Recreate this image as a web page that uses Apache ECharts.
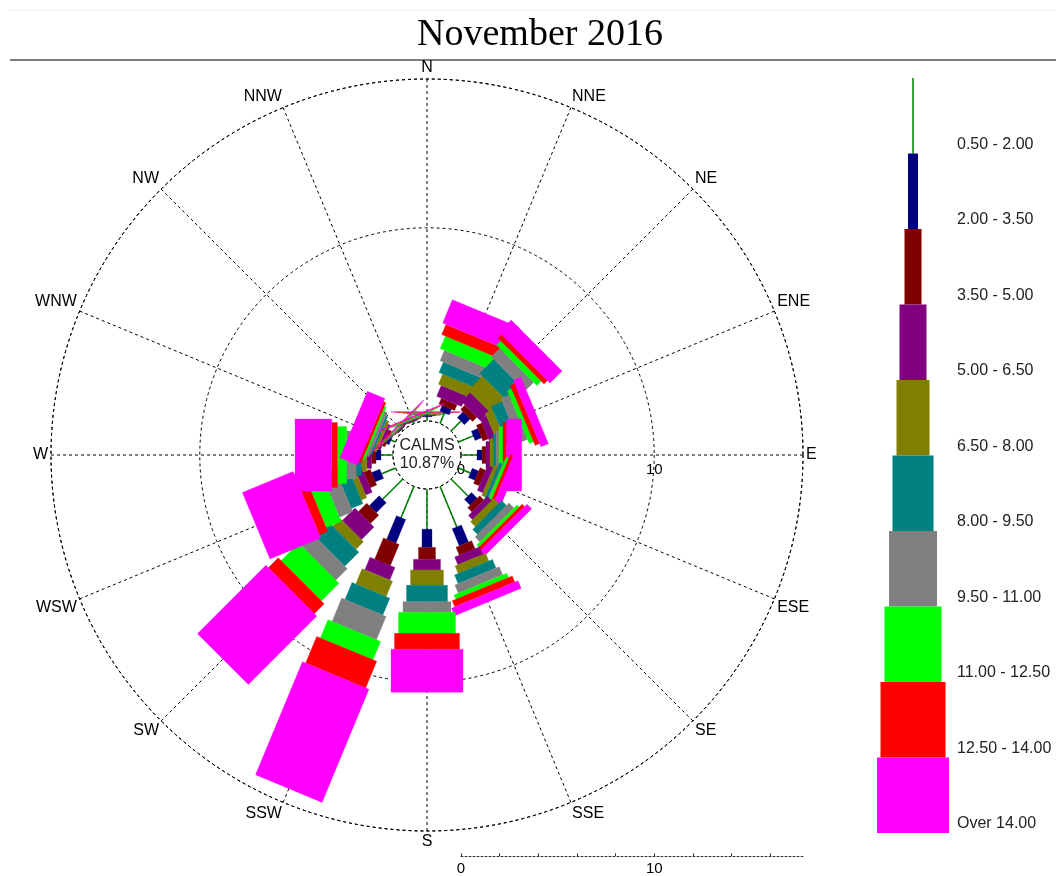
<!DOCTYPE html>
<html><head><meta charset="utf-8">
<script src="https://cdn.jsdelivr.net/npm/echarts@6/dist/echarts.min.js"></script>
<style>html,body{margin:0;padding:0;background:#fff}#chart{width:1056px;height:876px}</style>
</head><body><div id="chart"></div>
<script>
// ---------- DATA ----------
const directions = ['N','NNE','NE','ENE','E','ESE','SE','SSE','S','SSW','SW','WSW','W','WNW','NW','NNW'];
const speedClasses = ['0.50 - 2.00','2.00 - 3.50','3.50 - 5.00','5.00 - 6.50','6.50 - 8.00',
  '8.00 - 9.50','9.50 - 11.00','11.00 - 12.50','12.50 - 14.00','Over 14.00'];
const calmsPct = 10.87;
// frequency (%) of each speed class, per direction (N ... NNW)
const spd050_200 = [0.22,0.60,0.72,0.83,0.83,0.67,1.24,2.27,2.08,1.75,1.48,0.78,0.62,0.26,0.10,0.10];
const spd200_350 = [0.04,0.31,0.42,0.36,0.26,0.36,0.42,0.95,0.94,1.32,0.73,0.46,0.26,0.15,0.04,0.03];
const spd350_500 = [0.04,0.33,0.31,0.31,0.20,0.32,0.31,0.45,0.62,1.19,0.61,0.36,0.23,0.16,0.04,0.03];
const spd500_650 = [0.03,0.61,0.67,0.36,0.21,0.31,0.31,0.43,0.55,0.70,0.92,0.37,0.25,0.15,0.02,0.03];
const spd650_800 = [0.03,0.57,1.04,0.42,0.16,0.20,0.36,0.43,0.79,0.86,0.55,0.30,0.26,0.16,0.03,0.03];
const spd800_950 = [0.03,0.59,1.03,0.62,0.15,0.16,0.36,0.48,0.85,0.95,1.03,0.65,0.29,0.10,0.03,0.03];
const spd950_1100 = [0.03,0.58,0.62,0.46,0.16,0.05,0.36,0.46,0.55,1.31,0.84,0.74,0.49,0.16,0.03,0.03];
const spd1100_1250 = [0.02,0.70,0.31,0.24,0.20,0.15,0.16,0.24,1.09,1.02,1.29,0.84,0.48,0.10,0.03,0.03];
const spd1250_1400 = [0.02,0.57,0.26,0.25,0.19,0.16,0.18,0.34,0.82,1.49,0.72,0.47,0.29,0.13,0.03,0.03];
const spdOver1400 = [0.02,1.31,0.88,0.42,0.78,0.39,0.34,0.43,2.23,6.34,5.01,2.84,1.90,0.98,0.04,0.03];
const radiusLabels = [0, 10];
const scaleLabels = [0, 10];

// ---------- STYLE ----------
const classValues = [spd050_200,spd200_350,spd350_500,spd500_650,spd650_800,spd800_950,spd950_1100,spd1100_1250,spd1250_1400,spdOver1400];
const classColors = ['#008000','#000080','#800000','#800080','#808000','#008080','#808080','#00ff00','#ff0000','#ff00ff'];
const classWidths = [1.5,10,17,27,33,41,48,57,65,72];
const radiusMax = 17.7;
const dash = [3,3];
const sans = '"Liberation Sans", Arial, sans-serif';

// compass bearing -> angle value (angle axis starts at east, clockwise)
function angleValue(i){ return (i*22.5 + 270) % 360; }
function dirName(v){ const b = (v + 90) % 360; return directions[Math.round(b/22.5) % 16]; }

function renderRose(params, api){
  const d = api.value(2);
  const ang = angleValue(d);
  const cs = params.coordSys;
  const cx = cs.cx, cy = cs.cy;
  const children = [];
  let cum = 0;
  for (let k = 0; k < classValues.length; k++){
    const v = classValues[k][d];
    const p0 = api.coord([cum, ang]);
    cum += v;
    const p1 = api.coord([cum, ang]);
    let ux = p0[0]-cx, uy = p0[1]-cy; const L = Math.hypot(ux,uy) || 1; ux/=L; uy/=L;
    const nx = -uy, ny = ux, hw = classWidths[k]/2;
    if (k === 0){
      children.push({type:'line', shape:{x1:p0[0],y1:p0[1],x2:p1[0],y2:p1[1]},
        style:{stroke:classColors[0], lineWidth:1.5}});
    } else {
      children.push({type:'polygon', shape:{points:[
        [p0[0]+nx*hw, p0[1]+ny*hw],[p1[0]+nx*hw, p1[1]+ny*hw],
        [p1[0]-nx*hw, p1[1]-ny*hw],[p0[0]-nx*hw, p0[1]-ny*hw]]},
        style:{fill:classColors[k], stroke:classColors[k], lineWidth:0.3}});
    }
  }
  return {type:'group', children};
}

function renderLegend(params, api){
  const i = api.value(1);
  const c = api.coord([0, i]);
  const h = api.size([0, 1])[1];
  const w = classWidths[i];
  const children = [];
  if (i === 0){
    children.push({type:'line', shape:{x1:c[0],y1:c[1]-h/2,x2:c[0],y2:c[1]+h/2},
      style:{stroke:classColors[0], lineWidth:1.5}});
  } else {
    children.push({type:'rect', shape:{x:c[0]-w/2, y:c[1]-h/2, width:w, height:h},
      style:{fill:classColors[i]}});
  }
  children.push({type:'text', x:c[0]+44, y:c[1]+h/2-9,
    style:{text:speedClasses[i], fill:'#222', font:'16px '+sans, verticalAlign:'middle', align:'left'}});
  return {type:'group', children};
}

const chart = echarts.init(document.getElementById('chart'), null, {renderer:'canvas'});
chart.setOption({
  animation:false,
  backgroundColor:'#fff',
  title:{text:'November 2016', left:535, textAlign:'center', top:11,
    textStyle:{fontFamily:'"Liberation Serif", "Times New Roman", serif', fontSize:38, fontWeight:'normal', color:'#000'}},
  graphic:[
    {type:'line', shape:{x1:10,y1:10,x2:1056,y2:10}, style:{stroke:'#eee', lineWidth:1}},
    {type:'line', shape:{x1:10,y1:60,x2:1056,y2:60}, style:{stroke:'#555', lineWidth:1.5}},
    {type:'text', x:427, y:455, z:10, style:{text:'CALMS\n' + calmsPct.toFixed(2) + '%', font:'16px '+sans,
      fill:'#222', align:'center', verticalAlign:'middle', lineHeight:18}}
  ],
  polar:{center:[427,455], radius:[34, 376]},
  angleAxis:{type:'value', min:0, max:360, interval:22.5, startAngle:0, clockwise:true,
    axisLine:{lineStyle:{color:'#000', type:dash, width:1}},
    axisTick:{show:false},
    splitLine:{show:true, lineStyle:{color:'#000', type:dash, width:1}},
    axisLabel:{formatter:dirName, color:'#000', fontSize:16, fontFamily:sans, margin:3}},
  radiusAxis:{type:'value', min:0, max:radiusMax, interval:10,
    axisLine:{show:false}, axisTick:{show:false},
    splitLine:{show:true, lineStyle:{color:'#000', type:dash, width:1}},
    axisLabel:{showMaxLabel:false, formatter:v => radiusLabels.includes(v) ? String(v) : '',
      margin:-7, verticalAlign:'top', align:'center', fontSize:15, color:'#000', fontFamily:sans}},
  grid:[
    {left:860, top:78, width:106, height:755},
    {left:461, top:856, width:342, height:1}
  ],
  xAxis:[
    {gridIndex:0, type:'value', min:-1, max:1, show:false},
    {gridIndex:1, type:'value', min:0, max:radiusMax, interval:2,
      axisLine:{lineStyle:{color:'#333', type:[2,2], width:1}},
      axisTick:{inside:true, length:3, lineStyle:{color:'#333'}},
      splitLine:{show:false},
      axisLabel:{showMaxLabel:false, formatter:v => scaleLabels.includes(v) ? String(v) : '',
        fontSize:15, color:'#000', fontFamily:sans, margin:5}}
  ],
  yAxis:[
    {gridIndex:0, type:'category', data:speedClasses, inverse:true, show:false},
    {gridIndex:1, type:'value', show:false}
  ],
  series:[
    {type:'custom', coordinateSystem:'polar', polarIndex:0, renderItem:renderRose, z:3,
      data:directions.map((n,i)=>({name:n, value:[classValues.reduce((s,a)=>s+a[i],0), angleValue(i), i]}))},
    {type:'custom', coordinateSystem:'cartesian2d', xAxisIndex:0, yAxisIndex:0, renderItem:renderLegend,
      data:speedClasses.map((s,i)=>[0,i])}
  ]
});
</script></body></html>
